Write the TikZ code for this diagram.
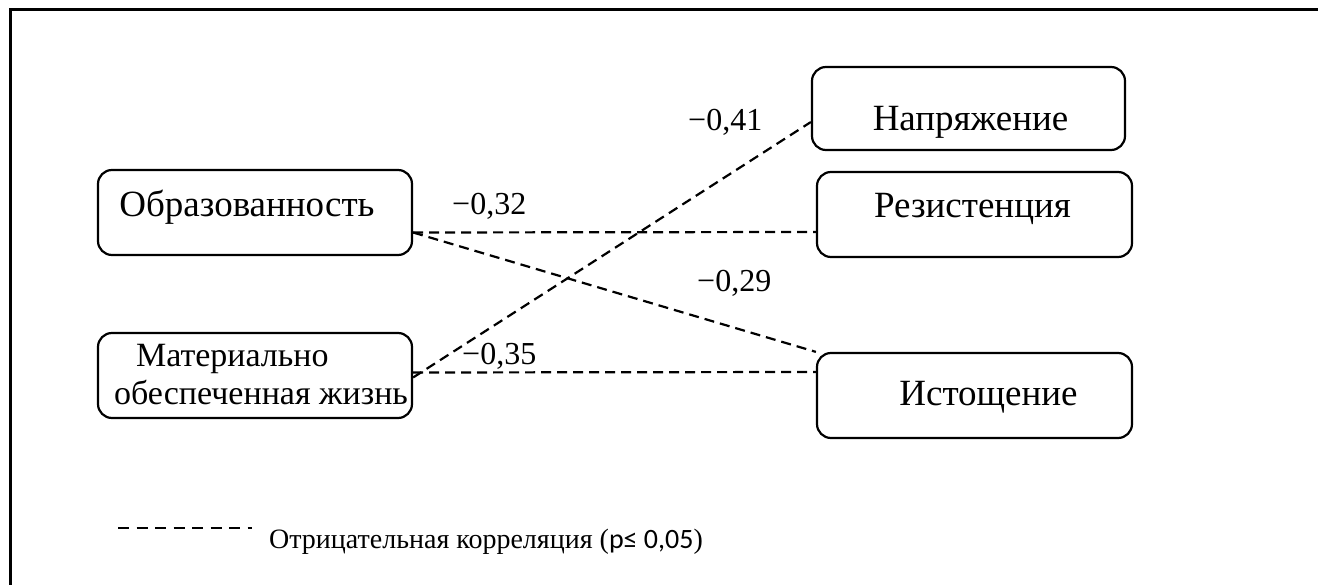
\documentclass[tikz,border=0pt]{standalone}
\usepackage{fontspec}
\setmainfont{Liberation Serif}
\newfontfamily\calib{Carlito}
\newcommand{\shft}[3]{\raisebox{#2}[\height][\depth]{\makebox[0pt]{\hspace*{#1}\hspace*{#1}#3}}}
\tikzset{
  box/.style={draw, line width=2.2pt, rounded corners=14pt, inner sep=0pt,
    font=\fontsize{37}{40}\selectfont},
  corr/.style={draw, line width=2.2pt, dash pattern=on 10pt off 6pt},
  val/.style={anchor=base west, inner sep=0pt, font=\fontsize{32}{36}\selectfont},
}
\begin{document}
\begin{tikzpicture}[x=1pt,y=-1pt]
\useasboundingbox (0,0) rectangle (1318,585);
\draw[line width=3pt] (10,585) -- (10,10) -- (1318,10);

\node[box, minimum width=314pt, minimum height=85pt] (obr) at (255,212.5)
  {\shft{-8pt}{5pt}{Образованность}};
\node[box, minimum width=314pt, minimum height=85pt, align=left,
  font=\fontsize{34}{40}\selectfont] (mat) at (255,375.5)
  {\shft{6pt}{-2pt}{\begin{tabular}{@{}l@{}}\hspace*{22pt}Материально\\[-2pt]обеспеченная жизнь\end{tabular}}};
\node[box, minimum width=313pt, minimum height=83pt] (nap) at (968.5,108.5)
  {\shft{2pt}{-14pt}{Напряжение}};
\node[box, minimum width=315pt, minimum height=85pt] (rez) at (974.5,214.5)
  {\shft{-2pt}{6pt}{Резистенция}};
\node[box, minimum width=315pt, minimum height=85pt] (ist) at (974.5,395.5)
  {\shft{14pt}{-2pt}{Истощение}};

\draw[corr] ([yshift=-20pt]obr.east) -- ([yshift=-17.5pt]rez.west);
\draw[corr] ([yshift=-20pt]obr.east) -- (ist.north west);
\draw[corr] ([yshift=-2pt]mat.east) -- ([yshift=-13.5pt]nap.west);
\draw[corr] ([yshift=3pt]mat.east) -- ([yshift=23.5pt]ist.west);

\node[val] (l41) at (688,131) {−0,41};
\node[val] (l32) at (452,215) {−0,32};
\node[val] (l29) at (697,292) {−0,29};
\node[val] (l35) at (462,365) {−0,35};

\coordinate (lga) at (118,528);
\coordinate (lgb) at (252,528);
\draw[corr, dash pattern=on 11pt off 7.5pt] (lga) -- (lgb);
\node[anchor=base west, inner sep=0pt, font=\fontsize{28}{32}\selectfont] (lgt) at (269,548)
  {Отрицательная корреляция ({\calib p≤ 0,05})};
\end{tikzpicture}
\end{document}
